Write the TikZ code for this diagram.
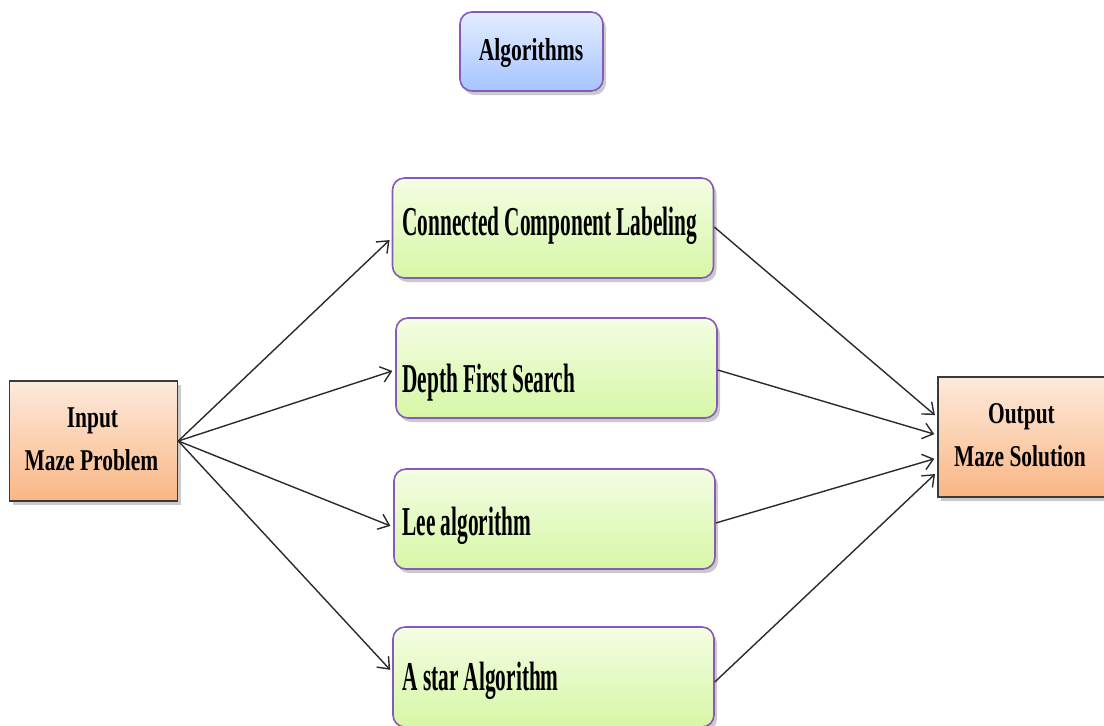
\documentclass[tikz,border=0pt]{standalone}
\usepackage{fontspec}
\usepackage{graphicx}
\newfontfamily\tnr{Liberation Serif}
\usetikzlibrary{arrows.meta,shadows}

\definecolor{greentop}{HTML}{F3FDE3}
\definecolor{greenbot}{HTML}{D6F7A6}
\definecolor{bluetop}{HTML}{E4EDFF}
\definecolor{bluebot}{HTML}{A6C4FF}
\definecolor{orangetop}{HTML}{FDEADC}
\definecolor{orangebot}{HTML}{F9B684}
\definecolor{boxpurple}{HTML}{8A58B8}
\definecolor{boxgray}{HTML}{3A3A3A}
\definecolor{linegray}{HTML}{2A2A2A}

\tikzset{
  softshadow/.style={drop shadow={shadow xshift=1.5pt, shadow yshift=-2pt, opacity=0.35, fill=black!60}},
  algbox/.style={draw=boxpurple, line width=0.8pt, rounded corners=6pt, softshadow,
    top color=greentop, bottom color=greenbot, minimum width=160.5pt, minimum height=50pt, inner sep=0pt},
  titlebox/.style={draw=boxpurple, line width=0.8pt, rounded corners=6pt, softshadow,
    top color=bluetop, bottom color=bluebot, minimum width=71.5pt, minimum height=39.5pt, inner sep=0pt},
  endbox/.style={draw=boxgray, line width=0.8pt, softshadow,
    top color=orangetop, bottom color=orangebot, minimum width=84pt, minimum height=60pt, inner sep=0pt},
  algtext/.style={inner sep=0pt, anchor=base west, font=\tnr\bfseries\fontsize{20.5}{24}\selectfont},
  endtext/.style={inner sep=0pt, anchor=base, font=\tnr\bfseries\fontsize{15.1}{18}\selectfont},
  titletext/.style={inner sep=0pt, anchor=base, font=\tnr\bfseries\fontsize{15.9}{19}\selectfont},
  conn/.style={draw=linegray, line width=0.7pt, -{Straight Barb[length=5pt,width=8pt]}, shorten >=1.5pt},
}
\newcommand{\narrowalg}[1]{\scalebox{0.52}[1]{#1}}
\newcommand{\narrowend}[1]{\scalebox{0.71}[1]{#1}}
\newcommand{\narrowtitle}[1]{\scalebox{0.68}[1]{#1}}

\begin{document}
\begin{tikzpicture}[x=0.5pt, y=-0.5pt]
  \useasboundingbox (0,0) rectangle (1104,725);
  \clip (0,0) rectangle (1104,725);

  % title box
  \node[titlebox] (alg) at (531.5,51.5) {};
  \node[titletext] (algtxt) at (531,60) {\narrowtitle{Algorithms}};

  % input and output boxes
  \node[endbox] (in) at (93.5,441) {};
  \node[endtext] (intop) at (92.5,427) {\narrowend{Input}};
  \node[endtext] (inbot) at (91.5,470) {\narrowend{Maze Problem}};

  \node[endbox] (out) at (1022,437) {};
  \node[endtext] (outtop) at (1021.5,423) {\narrowend{Output}};
  \node[endtext] (outbot) at (1020,466) {\narrowend{Maze Solution}};

  % algorithm boxes
  \node[algbox] (ccl) at (553,228) {};
  \node[algtext] (ccltxt) at (402,235) {\narrowalg{Connected Component Labeling}};

  \node[algbox] (dfs) at (556.5,368) {};
  \node[algtext] (dfstxt) at (402,392) {\narrowalg{Depth First Search}};

  \node[algbox] (lee) at (554.5,519) {};
  \node[algtext] (leetxt) at (402,535) {\narrowalg{Lee algorithm}};

  \node[algbox] (astar) at (553.5,677) {};
  \node[algtext] (astartxt) at (402,690) {\narrowalg{A star Algorithm}};

  % connectors from the input
  \draw[conn] (in.east) -- ([yshift=-5pt]ccl.west);
  \draw[conn] (in.east) -- ([yshift=-1pt]dfs.west);
  \draw[conn] (in.east) -- ([yshift=-4pt]lee.west);
  \draw[conn] (in.east) -- ([yshift=2.5pt]astar.west);

  % connectors to the output
  \draw[conn] ([yshift=0.5pt]ccl.east) -- ([yshift=10pt]out.west);
  \draw[conn] ([yshift=-1pt]dfs.east) -- ([yshift=1pt]out.west);
  \draw[conn] ([yshift=-2pt]lee.east) -- ([yshift=-10.5pt]out.west);
  \draw[conn] ([yshift=-2.5pt]astar.east) -- ([yshift=-17.5pt]out.west);
\end{tikzpicture}
\end{document}
